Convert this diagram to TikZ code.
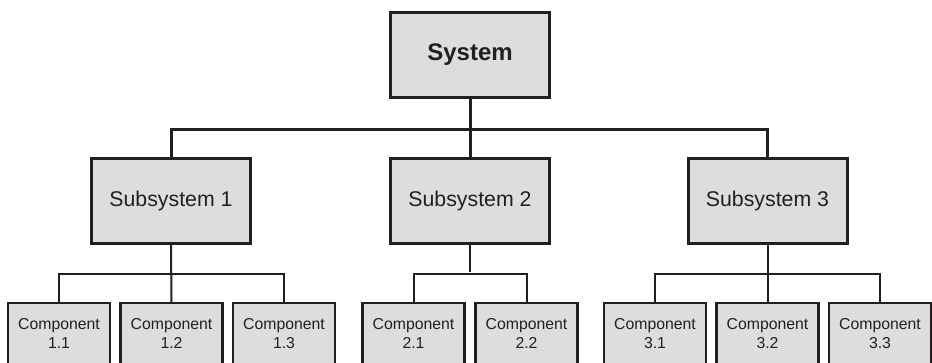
\documentclass[tikz,border=0pt]{standalone}
\usepackage{fontspec}
\setmainfont{Liberation Sans}
\definecolor{boxfill}{HTML}{DCDDDF}
\definecolor{ink}{HTML}{231F20}
\begin{document}
\begin{tikzpicture}[x=1pt,y=-1pt,
  bigbox/.style={draw=ink,fill=boxfill,line width=3pt,inner sep=0pt,outer sep=0pt,
    minimum width=159pt,minimum height=85pt,text=ink},
  compbox/.style={draw=ink,fill=boxfill,line width=2.5pt,inner sep=0pt,outer sep=0pt,
    minimum width=102pt,minimum height=68pt,text=ink,align=center,
    font=\fontsize{15.8}{19}\selectfont,text depth=7pt},
  thickbus/.style={draw=ink,line width=3pt},
  thinbus/.style={draw=ink,line width=2pt}]
\useasboundingbox (0,0) rectangle (932,363);
\node[bigbox,font=\fontsize{24}{28}\selectfont\bfseries] (sys) at (470,55) {System};
\node[bigbox,font=\fontsize{21.3}{25}\selectfont] (s1) at (171,201) {Subsystem 1};
\node[bigbox,font=\fontsize{21.3}{25}\selectfont] (s2) at (470,201) {Subsystem 2};
\node[bigbox,font=\fontsize{21.3}{25}\selectfont] (s3) at (767.5,201) {Subsystem 3};
\node[compbox] (c11) at (59,337) {Component\\1.1};
\node[compbox] (c12) at (171.5,337) {Component\\1.2};
\node[compbox] (c13) at (284,337) {Component\\1.3};
\node[compbox] (c21) at (413.5,337) {Component\\2.1};
\node[compbox] (c22) at (526.5,337) {Component\\2.2};
\node[compbox] (c31) at (655,337) {Component\\3.1};
\node[compbox] (c32) at (767.5,337) {Component\\3.2};
\node[compbox] (c33) at (880,337) {Component\\3.3};
% top level bus
\draw[thickbus] (sys.south) -- (s2.north);
\draw[thickbus,line cap=rect] (s1.north) -- ++(0,-29) -| (s3.north);
% lower buses
\draw[thinbus] (s1.south) -- (c12.north);
\draw[thinbus] (c11.north) -- ++(0,-29) -| (c13.north);
\draw[thinbus] (s2.south) -- ++(0,29);
\draw[thinbus] (c21.north) -- ++(0,-29) -| (c22.north);
\draw[thinbus] (s3.south) -- (c32.north);
\draw[thinbus] (c31.north) -- ++(0,-29) -| (c33.north);
\end{tikzpicture}
\end{document}
